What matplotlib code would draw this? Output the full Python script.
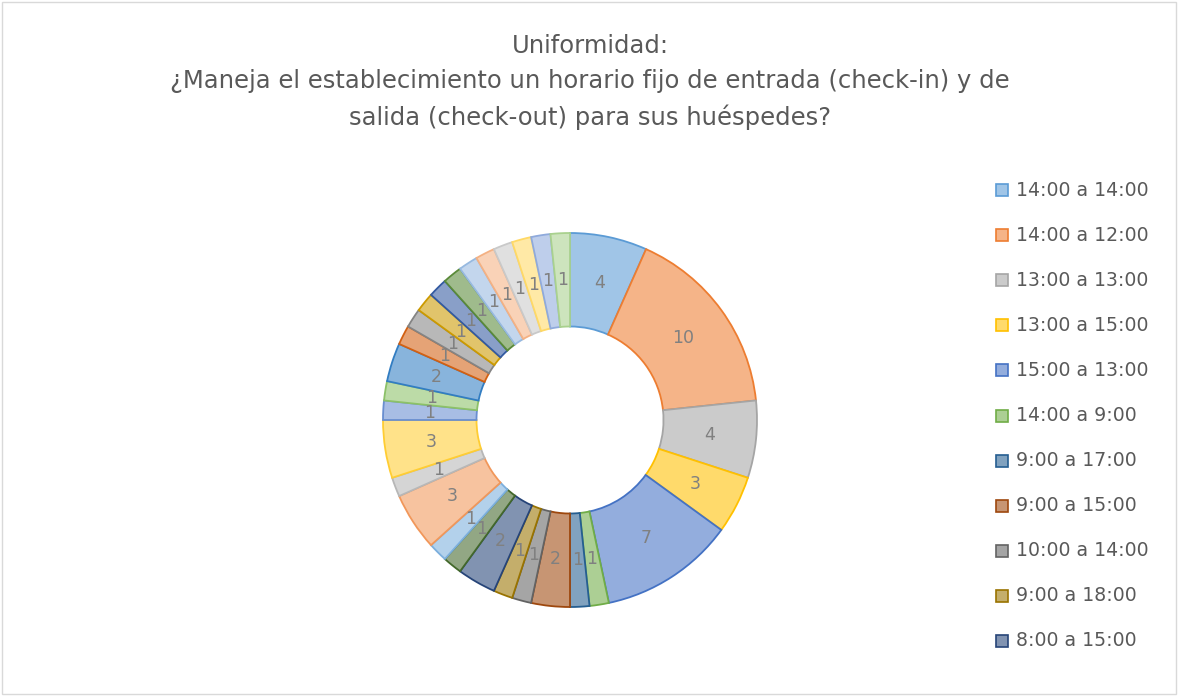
import matplotlib
matplotlib.use("Agg")
import matplotlib.pyplot as plt
from matplotlib.patches import Rectangle
import matplotlib.colors as mcolors
import numpy as np

plt.rcParams['font.family'] = ['DejaVu Sans']

title = "Uniformidad:\n¿Maneja el establecimiento un horario fijo de entrada (check-in) y de\nsalida (check-out) para sus huéspedes?"

legend_labels = ["14:00 a 14:00", "14:00 a 12:00", "13:00 a 13:00", "13:00 a 15:00",
                 "15:00 a 13:00", "14:00 a 9:00", "9:00 a 17:00", "9:00 a 15:00",
                 "10:00 a 14:00", "9:00 a 18:00", "8:00 a 15:00"]

values = [4, 10, 4, 3, 7, 1, 1, 2, 1, 1, 2, 1, 1, 3, 1, 3, 1, 1, 2, 1,
          1, 1, 1, 1, 1, 1, 1, 1, 1, 1]

base_colors = ["#5B9BD5", "#ED7D31", "#A5A5A5", "#FFC000", "#4472C4", "#70AD47",
               "#255E91", "#9E480E", "#636363", "#997300", "#264478", "#43682B",
               "#7CAFDD", "#F1975A", "#B7B7B7", "#FFCD33", "#698ED0", "#8CC168",
               "#327DC2", "#D26012", "#848484", "#CC9A00", "#335AA1", "#5A8A39",
               "#97B9E0", "#F4B183", "#C9C9C9", "#FFD966", "#8FAADC", "#A9D18E"]


def tint(c, f=0.42):
    r, g, b = mcolors.to_rgb(c)
    return (r + (1 - r) * f, g + (1 - g) * f, b + (1 - b) * f)


fills = [tint(c) for c in base_colors]

W, H = 1178, 696
fig = plt.figure(figsize=(W / 100, H / 100), dpi=100)

# chart border
fig.patches.append(Rectangle((2 / W, 2 / H), 1 - 4 / W, 1 - 4 / H, transform=fig.transFigure,
                             fill=False, edgecolor="#D9D9D9", linewidth=1))

cx, cy, R = 570, 420, 187
ax = fig.add_axes([(cx - R) / W, (H - cy - R) / H, 2 * R / W, 2 * R / H])
wedges, _ = ax.pie(values, radius=1, startangle=90, counterclock=False, colors=fills,
                   wedgeprops=dict(width=0.5, linewidth=1.3))
for w, ec in zip(wedges, base_colors):
    w.set_edgecolor(ec)

total = sum(values)
ang = 90.0
for v in values:
    theta = np.deg2rad(ang - v / total * 360 / 2)
    ang -= v / total * 360
    r = 0.75
    ax.text(r * np.cos(theta), r * np.sin(theta), str(v), ha="center", va="center",
            fontsize=12.5, color="#808080")
ax.set_xlim(-1, 1)
ax.set_ylim(-1, 1)
ax.set_aspect("equal")
ax.axis("off")

fig.text(590 / W, 1 - 34 / H, title, ha="center", va="top", fontsize=17.5,
         color="#595959", linespacing=1.56)

# legend
y0, dy = 190, 45.1
for i, lab in enumerate(legend_labels):
    y = y0 + i * dy
    fig.patches.append(Rectangle((996 / W, (H - y - 6) / H), 12 / W, 12 / H,
                                 transform=fig.transFigure, facecolor=fills[i],
                                 edgecolor=base_colors[i], linewidth=1.2))
    fig.text(1016 / W, 1 - y / H, lab, ha="left", va="center", fontsize=13.6, color="#595959")

fig.savefig("out.png", dpi=100)
